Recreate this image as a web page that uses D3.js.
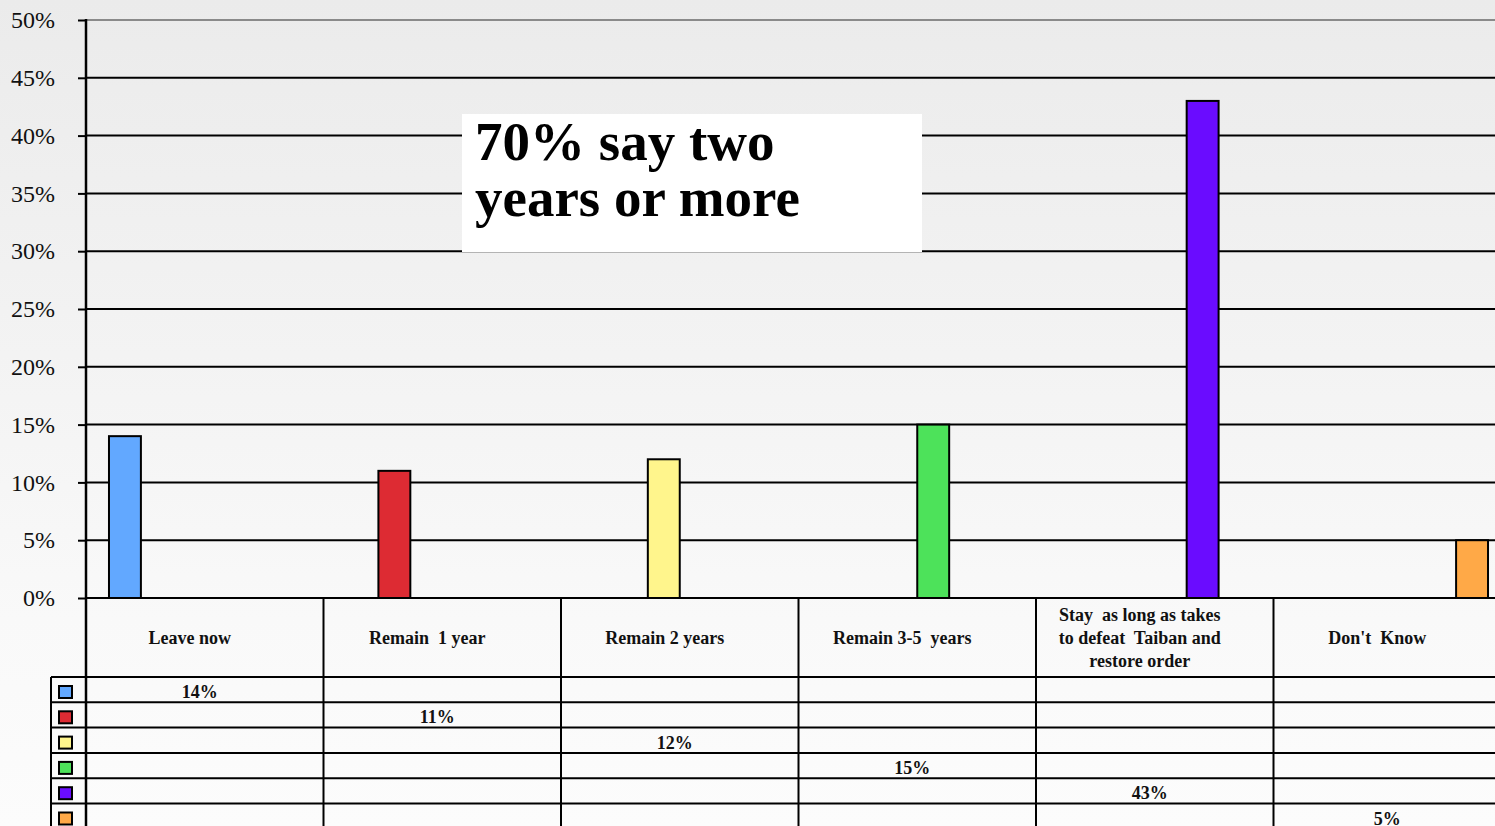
<!DOCTYPE html>
<html>
<head>
<meta charset="utf-8">
<script src="https://cdn.jsdelivr.net/npm/d3@7"></script>
<style>
  html, body { margin: 0; padding: 0; background: #f4f4f4; }
  svg { display: block; }
  text { font-family: "Liberation Serif", "Times New Roman", serif; }
</style>
</head>
<body>
<svg id="chart" width="1495" height="826"></svg>
<script>
// Survey answers: how long should troops stay
const categories = [
  "Leave now",
  "Remain  1 year",
  "Remain 2 years",
  "Remain 3-5  years",
  "Stay  as long as takes\nto defeat  Taiban and\nrestore order",
  "Don't  Know"
];
const values = [0.14, 0.11, 0.12, 0.15, 0.43, 0.05];
const valueLabels = ["14%", "11%", "12%", "15%", "43%", "5%"];
const colors = ["#62a8ff", "#dd2b33", "#fff58c", "#4de25a", "#6a0cff", "#ffa947"];
const yTicks = [0, 0.05, 0.10, 0.15, 0.20, 0.25, 0.30, 0.35, 0.40, 0.45, 0.50];
const note = ["70% say two", "years or more"];

const W = 1495, H = 826;
const plot = { left: 86, top: 20, bottom: 598, right: 1511 };
const headerH = 79, rowH = 25.3, legendLeft = 51;

const svg = d3.select("#chart");

// soft vertical background gradient
const defs = svg.append("defs");
const grad = defs.append("linearGradient").attr("id", "bg").attr("x1", 0).attr("y1", 0).attr("x2", 0).attr("y2", 1);
grad.append("stop").attr("offset", "0%").attr("stop-color", "#ebebeb");
grad.append("stop").attr("offset", "75%").attr("stop-color", "#f9f9f9");
grad.append("stop").attr("offset", "100%").attr("stop-color", "#fcfcfc");
svg.append("rect").attr("width", W).attr("height", H).attr("fill", "url(#bg)");

const y = d3.scaleLinear().domain([0, 0.5]).range([plot.bottom, plot.top]);
const x = d3.scaleBand().domain(categories).range([plot.left, plot.right]).padding(0);
// each answer is its own series, so every group holds one slot per series
const xs = d3.scaleBand().domain(d3.range(categories.length)).range([0, x.bandwidth()])
  .paddingInner(0).paddingOuter(0.72);

// gridlines
svg.append("g").selectAll("line").data(yTicks).join("line")
  .attr("x1", plot.left).attr("x2", W)
  .attr("y1", d => y(d)).attr("y2", d => y(d))
  .attr("stroke", d => d === 0.5 ? "#8a8a8a" : "#000")
  .attr("stroke-width", 2);

// annotation box
const boxX = 462, boxY = 114;
svg.append("rect").attr("x", boxX).attr("y", boxY).attr("width", 460).attr("height", 138).attr("fill", "#fff");
svg.append("text")
  .attr("x", 475).attr("y", 160)
  .attr("font-size", 55).attr("font-weight", "bold").attr("fill", "#000")
  .selectAll("tspan").data(note).join("tspan")
  .attr("x", 475).attr("dy", (d, i) => i === 0 ? 0 : 56)
  .text(d => d);

// bars
svg.append("g").selectAll("rect").data(values).join("rect")
  .attr("x", (d, i) => x(categories[i]) + xs(i))
  .attr("y", d => y(d))
  .attr("width", xs.bandwidth())
  .attr("height", d => y(0) - y(d))
  .attr("fill", (d, i) => colors[i])
  .attr("stroke", "#000").attr("stroke-width", 2);

// y axis
const yAxis = d3.axisLeft(y).tickValues(yTicks).tickFormat(d3.format(".0%"))
  .tickSize(8).tickPadding(23);
const ga = svg.append("g").attr("transform", `translate(${plot.left},0)`).call(yAxis);
ga.select(".domain").remove();
ga.selectAll(".tick line").attr("stroke", "#000").attr("stroke-width", 2);
ga.selectAll(".tick text").attr("font-size", 24).attr("fill", "#111")
  .attr("font-family", "'Liberation Serif', 'Times New Roman', serif");
svg.append("line").attr("x1", plot.left).attr("x2", plot.left).attr("y1", plot.top - 1).attr("y2", H)
  .attr("stroke", "#000").attr("stroke-width", 2.5);

// data table
const tableTop = plot.bottom;
const rowsTop = tableTop + headerH;
const tbl = svg.append("g");
// row lines
const rowYs = d3.range(categories.length + 1).map(i => rowsTop + i * rowH);
tbl.selectAll("line.row").data(rowYs).join("line").attr("class", "row")
  .attr("x1", legendLeft).attr("x2", W)
  .attr("y1", d => d).attr("y2", d => d)
  .attr("stroke", "#000").attr("stroke-width", 2);
// column dividers
tbl.selectAll("line.col").data(categories.slice(1)).join("line").attr("class", "col")
  .attr("x1", d => x(d)).attr("x2", d => x(d))
  .attr("y1", tableTop).attr("y2", H)
  .attr("stroke", "#000").attr("stroke-width", 2);
tbl.append("line").attr("x1", legendLeft).attr("x2", legendLeft).attr("y1", rowsTop).attr("y2", H)
  .attr("stroke", "#000").attr("stroke-width", 2);

// category headers
categories.forEach(c => {
  const lines = c.split("\n");
  const cx = x(c) + x.bandwidth() / 2 - 15;
  const cy = tableTop + headerH / 2;
  const t = tbl.append("text")
    .attr("text-anchor", "middle").attr("font-size", 18).attr("font-weight", "bold")
    .attr("fill", "#111").style("white-space", "pre");
  lines.forEach((ln, j) => {
    t.append("tspan").attr("x", cx)
      .attr("y", cy + (j - (lines.length - 1) / 2) * 23 + 6)
      .text(ln);
  });
});

// legend swatches
tbl.selectAll("rect.key").data(colors).join("rect").attr("class", "key")
  .attr("x", 59).attr("y", (d, i) => rowsTop + i * rowH + 9)
  .attr("width", 13).attr("height", 12)
  .attr("fill", d => d).attr("stroke", "#000").attr("stroke-width", 2);

// values in the table
tbl.selectAll("text.val").data(valueLabels).join("text").attr("class", "val")
  .attr("x", (d, i) => x(categories[i]) + x.bandwidth() / 2 - 5)
  .attr("y", (d, i) => rowsTop + i * rowH + 21)
  .attr("text-anchor", "middle").attr("font-size", 18).attr("font-weight", "bold")
  .attr("fill", "#111")
  .text(d => d);
</script>
</body>
</html>
